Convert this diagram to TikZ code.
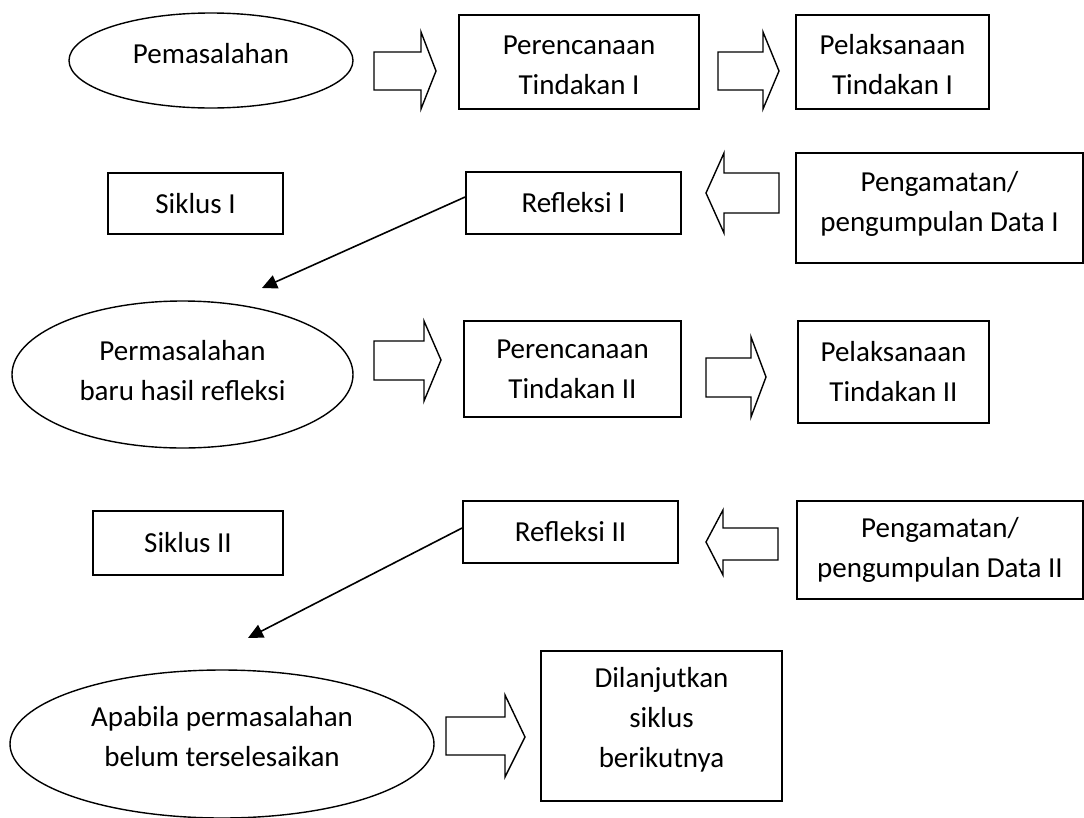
\documentclass[tikz,border=0pt]{standalone}
\usepackage{fontspec}
\setmainfont{Carlito}
\usetikzlibrary{arrows.meta,shapes.geometric}
\begin{document}
\begin{tikzpicture}[x=1pt,y=-1pt,
  every node/.style={font=\fontsize{29}{40}\selectfont, align=center, inner sep=0pt},
  box/.style={draw, line width=1.8pt, fill=white, rectangle},
  ell/.style={draw, line width=1.4pt, fill=white, ellipse},
  barrow/.style={draw, line width=1.4pt, fill=white, line join=miter},
  link/.style={line width=1.6pt, -{Triangle[length=15pt,width=14pt]}},
]
\useasboundingbox (0,0) rectangle (1084,817);

% row 1
\node[ell, minimum width=284pt, minimum height=95pt] (e1) at (211,60.5) {};
\node (e1t) at ([yshift=7pt]e1.center) {Pemasalahan};
\node[box, minimum width=240pt, minimum height=94pt] (b1) at (579,62) {};
\node (b1t) at ([yshift=-3pt]b1.center) {Perencanaan\\Tindakan I};
\node[box, minimum width=193pt, minimum height=94pt] (b2) at (892.5,62) {};
\node (b2t) at ([yshift=-3pt]b2.center) {Pelaksanaan\\Tindakan I};
\draw[barrow] (374,52) -- (421,52) -- (421,32) -- (436,71) -- (421,109) -- (421,90) -- (374,90) -- cycle;
\draw[barrow] (718,52) -- (763,52) -- (763,32) -- (779,71) -- (763,109) -- (763,90) -- (718,90) -- cycle;

% row 2
\node[box, minimum width=175pt, minimum height=61pt] (s1) at (195.5,203.5) {Siklus I};
\node[box, minimum width=215pt, minimum height=62pt] (r1) at (573.5,203) {Refleksi I};
\node[box, minimum width=287pt, minimum height=110pt] (p1) at (939.5,208) {};
\node (p1t) at ([yshift=4pt]p1.center) {Pengamatan/\\pengumpulan Data I};
\draw[barrow] (779,173) -- (724,173) -- (724,153) -- (706,193) -- (724,233) -- (724,213) -- (779,213) -- cycle;
\coordinate (t1) at (262,288);
\draw[link] ([yshift=6pt]r1.west) -- (t1);

% row 3
\node[ell, minimum width=341pt, minimum height=147pt] (e2) at (182.5,374.5) {};
\node (e2t) at ([yshift=4pt]e2.center) {Permasalahan\\baru hasil refleksi};
\node[box, minimum width=217pt, minimum height=96pt] (b3) at (572.5,369) {Perencanaan\\Tindakan II};
\node[box, minimum width=191pt, minimum height=102pt] (b4) at (893.5,372) {Pelaksanaan\\Tindakan II};
\draw[barrow] (374,341) -- (424,341) -- (424,321) -- (441,360) -- (424,401) -- (424,380) -- (374,380) -- cycle;
\draw[barrow] (706,358) -- (751,358) -- (751,337) -- (766,377) -- (751,417) -- (751,397) -- (706,397) -- cycle;

% row 4
\node[box, minimum width=190pt, minimum height=64pt] (s2) at (188,543) {Siklus II};
\node[box, minimum width=215pt, minimum height=62pt] (r2) at (570.5,532) {Refleksi II};
\node[box, minimum width=286pt, minimum height=98pt] (p2) at (940,550) {Pengamatan/\\pengumpulan Data II};
\draw[barrow] (778,528) -- (723,528) -- (723,510) -- (706,542) -- (723,575) -- (723,560) -- (778,560) -- cycle;
\coordinate (t2) at (248,638);
\draw[link] ([yshift=4pt]r2.west) -- (t2);

% row 5
\node[ell, minimum width=424pt, minimum height=148pt] (e3) at (222,744) {};
\node (e3t) at ([yshift=7pt]e3.center) {Apabila permasalahan\\belum terselesaikan};
\node[box, minimum width=241pt, minimum height=150pt] (b5) at (661.5,726) {};
\node (b5t) at ([yshift=6pt]b5.center) {Dilanjutkan\\siklus\\berikutnya};
\draw[barrow] (446,717) -- (505,717) -- (505,695) -- (525,737) -- (505,777) -- (505,755) -- (446,755) -- cycle;
\end{tikzpicture}
\end{document}
